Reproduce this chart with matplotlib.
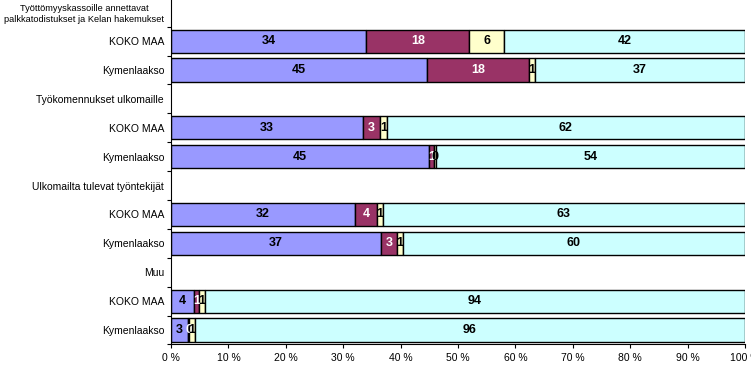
import numpy as np
import matplotlib
matplotlib.use("Agg")
import matplotlib.pyplot as plt
from matplotlib.ticker import FixedLocator

plt.rcParams['font.family'] = ['Liberation Sans', 'DejaVu Sans']

# rows from top to bottom; header rows have no bars
row_labels = [
    "Työttömyyskassoille annettavat\npalkkatodistukset ja Kelan hakemukset",
    "KOKO MAA", "Kymenlaakso",
    "Työkomennukset ulkomaille",
    "KOKO MAA", "Kymenlaakso",
    "Ulkomailta tulevat työntekijät",
    "KOKO MAA", "Kymenlaakso",
    "Muu",
    "KOKO MAA", "Kymenlaakso",
]
bar_rows = [1, 2, 4, 5, 7, 8, 10, 11]

# shares (%) of the four segments for each bar row
seg1 = [34.0, 44.6, 33.4, 45.0, 32.1, 36.6, 4.0, 3.0]
seg2 = [18.0, 17.7, 3.0, 0.8, 3.8, 2.8, 0.9, 0.2]
seg3 = [6.0, 1.1, 1.2, 0.3, 1.0, 1.0, 1.0, 0.9]
seg4 = [42.0, 36.6, 62.4, 53.9, 63.1, 59.6, 94.1, 95.9]

colors = ['#9999FF', '#993366', '#FFFFCC', '#CCFFFF']
text_colors = ['black', 'white', 'black', 'black']

fig = plt.figure(figsize=(7.51, 3.70), dpi=100)
ax = fig.add_axes([0.2277, 0.069, 0.7643, 0.937])

y = np.array(bar_rows)
left = np.zeros(len(bar_rows))
for vals, c, tc in zip([seg1, seg2, seg3, seg4], colors, text_colors):
    vals = np.array(vals)
    ax.barh(y, vals, left=left, height=0.8, color=c, edgecolor='black', linewidth=1.0)
    for yi, l, v in zip(y, left, vals):
        ax.text(l + v / 2, yi, '%.0f' % v, ha='center', va='center',
                fontsize=9, fontweight='bold', color=tc)
    left += vals

ax.set_xlim(0, 100)
ax.set_ylim(len(row_labels) - 0.5, -0.5)
ax.set_xticks(np.arange(0, 101, 10))
ax.set_xticklabels(['%d %%' % v for v in range(0, 101, 10)], fontsize=7.5)
ax.set_yticks(range(len(row_labels)))
ax.set_yticklabels(row_labels, fontsize=7.5, multialignment='center')
ax.get_yticklabels()[0].set_fontsize(6.7)
ax.tick_params(axis='y', which='major', length=0, pad=5)
ax.yaxis.set_minor_locator(FixedLocator(np.arange(-0.5, len(row_labels), 1)))
ax.tick_params(axis='y', which='minor', length=3, width=0.8, direction='out')
ax.tick_params(axis='x', length=3, width=0.8, direction='out')

ax.spines['top'].set_visible(False)
ax.spines['right'].set_visible(False)
ax.spines['left'].set_linewidth(0.8)
ax.spines['bottom'].set_linewidth(0.8)

fig.savefig('out.png', dpi=100)
